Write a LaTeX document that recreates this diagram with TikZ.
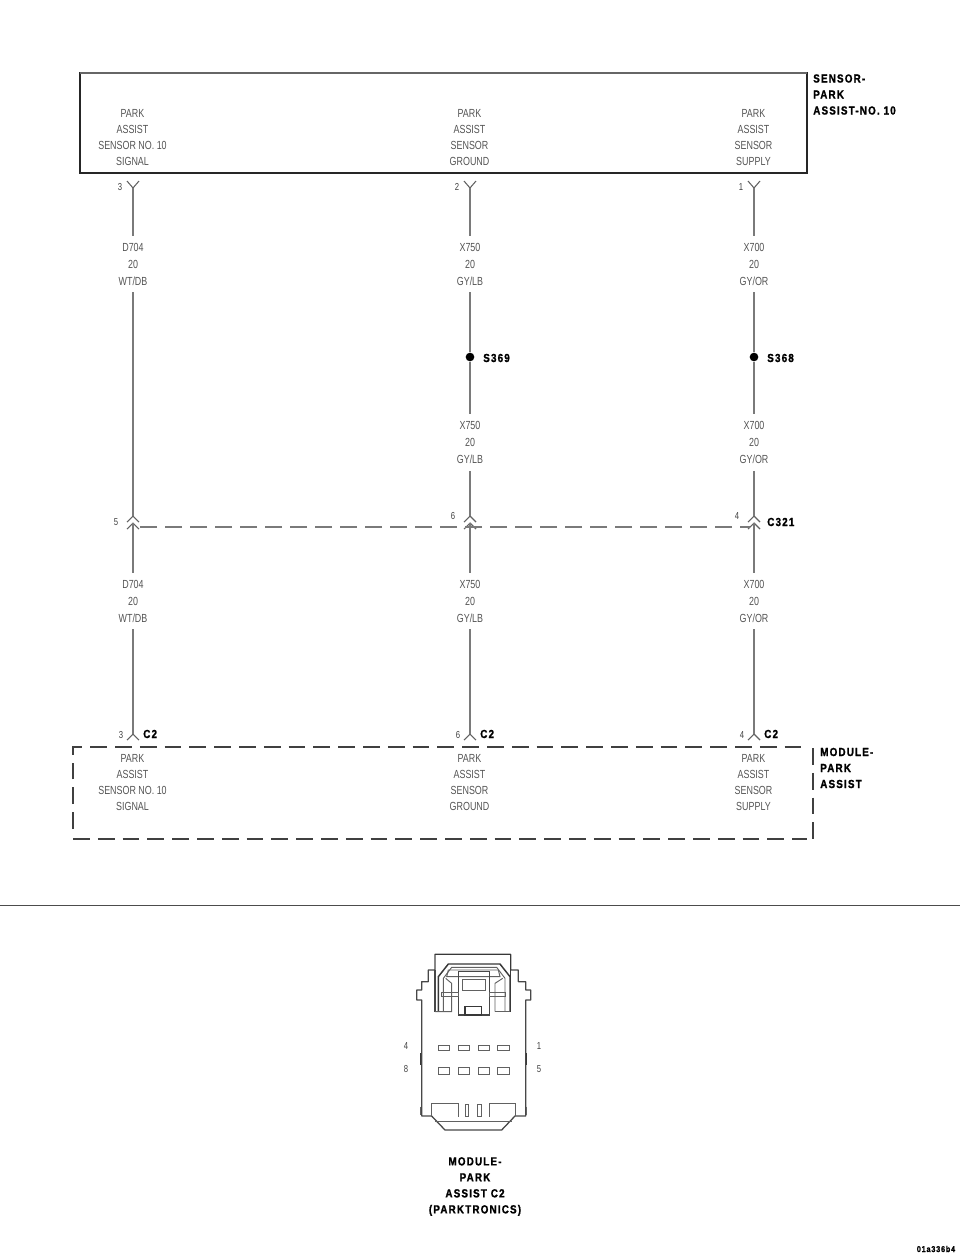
\documentclass[tikz,border=0pt]{standalone}
\usepackage{fontspec}
\setmainfont{Liberation Sans}
\newfontfamily\thinf[FakeStretch=0.76]{Liberation Sans}
\newfontfamily\boldf[FakeStretch=0.84,LetterSpace=10,FakeBold=1.2]{Liberation Sans Bold}
\definecolor{txt}{gray}{0.33}
\definecolor{wire}{gray}{0.48}
\tikzset{
 lab/.style={font=\thinf\fontsize{8.8pt}{12pt}\selectfont,text=txt,align=center,inner sep=0pt},
 wlab/.style={font=\thinf\fontsize{8.8pt}{12.75pt}\selectfont,text=txt,align=center,inner sep=0pt,minimum height=42pt},
 pin/.style={font=\thinf\fontsize{7.6pt}{9pt}\selectfont,text=black!75,inner sep=0pt},
 tag/.style={font=\boldf\fontsize{8.8pt}{12pt}\selectfont,text=black,align=left,inner sep=0pt},
 wireline/.style={draw=wire,line width=1.1pt},
 conn/.style={draw=wire!80!black,line width=0.8pt},
 dashline/.style={draw=wire,line width=1.1pt,dash pattern=on 12.75pt off 6pt},
 modbox/.style={draw=black!75,line width=1.3pt,dash pattern=on 12.6pt off 6pt},
 hw/.style={draw=black!62,line width=0.7pt},
 hwo/.style={draw=black!72,line width=0.95pt},
 hwb/.style={draw=black!78,line width=1.1pt},
 splice/.style={circle,fill=black,inner sep=0pt,minimum size=6.5pt}
}
\newcommand{\upY}[1]{\draw[conn] ([shift={(-6,-7)}]#1) -- (#1) -- ([shift={(6,-7)}]#1);}
\newcommand{\downY}[1]{\draw[conn] ([shift={(-6,6)}]#1) -- (#1) -- ([shift={(6,6)}]#1);}
\begin{document}
\begin{tikzpicture}[x=0.75pt,y=-0.75pt]
\useasboundingbox (0,0) rectangle (960,1257);
% sensor box
\draw[draw=black!85,line width=1.5pt] (80,73) rectangle (807,173);
\draw[draw=black!60,line width=2.2pt] (80,73) -- (807,73);
\node[lab] at (132.5,138) (s1) {PARK\\ASSIST\\SENSOR NO. 10\\SIGNAL};
\node[lab] at (469.5,138) (s2) {PARK\\ASSIST\\SENSOR\\GROUND};
\node[lab] at (753.5,138) (s3) {PARK\\ASSIST\\SENSOR\\SUPPLY};
\node[tag,anchor=west] at (813,94.5) (sname) {SENSOR-\\PARK\\ASSIST-NO. 10};
% module box
\coordinate (mtl) at (73,747);
\coordinate (mtr) at (807,747);
\coordinate (mbl) at (73,839);
\coordinate (mbr) at (807,839);
\coordinate (mlb) at (73,829);
\coordinate (mrt) at (813,748);
\coordinate (mrb) at (813,839);
\draw[modbox] (mlb) -- (mtl) -- (mtr);
\draw[modbox] (mbl) -- (mbr);
\draw[modbox] (mrt) -- (mrb);
\node[lab] at (132.5,783) (m1) {PARK\\ASSIST\\SENSOR NO. 10\\SIGNAL};
\node[lab] at (469.5,783) (m2) {PARK\\ASSIST\\SENSOR\\GROUND};
\node[lab] at (753.5,783) (m3) {PARK\\ASSIST\\SENSOR\\SUPPLY};
\node[tag,anchor=west] at (820,768) (mname) {MODULE-\\PARK\\ASSIST};
% connector points
\foreach \n/\x in {a/133,b/470,c/754}{
 \coordinate (\n top) at (\x,188);
 \coordinate (\n ca) at (\x,516);
 \coordinate (\n cb) at (\x,523);
 \coordinate (\n bot) at (\x,734);
 \upY{\n top}
 \downY{\n ca}
 \downY{\n cb}
 \downY{\n bot}
}
% wire labels
\node[wlab] at (133,264) (l1) {D704\\20\\WT/DB};
\node[wlab] at (133,601) (l2) {D704\\20\\WT/DB};
\node[wlab] at (470,264) (l3) {X750\\20\\GY/LB};
\node[wlab] at (470,442.5) (l4) {X750\\20\\GY/LB};
\node[wlab] at (470,601) (l5) {X750\\20\\GY/LB};
\node[wlab] at (754,264) (l6) {X700\\20\\GY/OR};
\node[wlab] at (754,442.5) (l7) {X700\\20\\GY/OR};
\node[wlab] at (754,601) (l8) {X700\\20\\GY/OR};
\node[splice] at (470,357) (s369) {};
\node[splice] at (754,357) (s368) {};
\node[tag,anchor=west] at (483,358) {S369};
\node[tag,anchor=west] at (767,358) {S368};
% wires
\draw[wireline] (atop) -- (l1.north);
\draw[wireline] (l1.south) -- (aca);
\draw[wireline] (acb) -- (l2.north);
\draw[wireline] (l2.south) -- (abot);
\draw[wireline] (btop) -- (l3.north);
\draw[wireline] (l3.south) -- (s369);
\draw[wireline] (s369) -- (l4.north);
\draw[wireline] (l4.south) -- (bca);
\draw[wireline] (bcb) -- (l5.north);
\draw[wireline] (l5.south) -- (bbot);
\draw[wireline] (ctop) -- (l6.north);
\draw[wireline] (l6.south) -- (s368);
\draw[wireline] (s368) -- (l7.north);
\draw[wireline] (l7.south) -- (cca);
\draw[wireline] (ccb) -- (l8.north);
\draw[wireline] (l8.south) -- (cbot);
% C321 dashed, laid out from its right end
\coordinate (dl) at (135,527);
\coordinate (dr) at (750,527);
\draw[dashline,dash phase=5.25pt] (dr) -- (dl);
% pin numbers
\foreach \x/\y/\t in {120/187/3,457/187/2,741/187/1,116/522/5,453/516/6,737/516/4,121/735/3,458/735/6,742/735/4}
 \node[pin] at (\x,\y) {\t};
\node[tag,anchor=west] at (767,522) {C321};
\foreach \x in {143,480,764} \node[tag,anchor=west] at (\x,734) {C2};
% separator
\draw[draw=black!70,line width=0.6pt] (0,905) -- (960,905);
% connector drawing
\begin{scope}[shift={(380,940)},scale=1/3]
 \draw[hwo,line join=round] (125,150) -- (110,150) -- (110,180) -- (125,180) -- (125,528) -- (155,528) -- (195,570) -- (365,570) -- (405,528) -- (437,528) -- (437,180) -- (452,180) -- (452,150) -- (437,150) -- (437,125) -- (415,125) -- (415,90) -- (392,90) -- (392,43) -- (165,43) -- (165,90) -- (145,90) -- (145,125) -- (125,125) -- cycle;
 \draw[hwb] (165,43) -- (392,43);
 \draw[hwo] (165,90) -- (165,215); \draw[hwb] (392,43) -- (392,215);
 \draw[hwb] (175,215) -- (175,110) -- (205,72) -- (360,72) -- (390,110) -- (390,215);
 \draw[hw] (190,215) -- (190,115) -- (215,82) -- (350,82) -- (375,115) -- (375,215);
 \draw[hw] (165,215) -- (215,215) -- (215,130) -- (197,115);
 \draw[hw] (345,215) -- (390,215);
 \draw[hw] (345,215) -- (345,130) -- (368,115);
 \draw[hw] (205,90) -- (355,90) -- (360,110) -- (200,110) -- cycle;
 \draw[hwo] (235,95) rectangle (328,225);
 \draw[hw] (248,118) rectangle (315,150);
 \draw[hwb] (255,200) rectangle (305,225);
 \draw[hw] (185,157) rectangle (235,168);
 \draw[hw] (328,157) rectangle (375,168);
 \foreach \xa/\xb in {175/208,235/267,294/328,353/388}{
  \draw[hw] (\xa,315) rectangle (\xb,332);
  \draw[hw] (\xa,381) rectangle (\xb,402);
 }
 \draw[hw] (155,528) -- (155,490) -- (235,490) -- (235,530);
 \draw[hw] (328,530) -- (328,490) -- (405,490) -- (405,528);
 \draw[hw] (256,492) rectangle (266,530);
 \draw[hw] (292,492) rectangle (304,530);
 \draw[hw] (165,545) -- (395,545);
 \draw[hwb] (122,340) -- (122,375);
 \draw[hwb] (440,340) -- (440,375);
 \draw[hw] (122,500) -- (122,525);
 \draw[hw] (440,500) -- (440,525);
\end{scope}
\foreach \x/\y/\t in {406/1046/4,406/1069/8,539/1046/1,539/1069/5}
 \node[pin] at (\x,\y) {\t};
\node[tag,align=center] at (475,1186.5) (cname) {MODULE-\\PARK\\ASSIST C2\\(PARKTRONICS)};
\node[font=\boldf\fontsize{6.4pt}{7pt}\selectfont,inner sep=0pt] at (936,1249) (code) {01a336b4};
\end{tikzpicture}
\end{document}
